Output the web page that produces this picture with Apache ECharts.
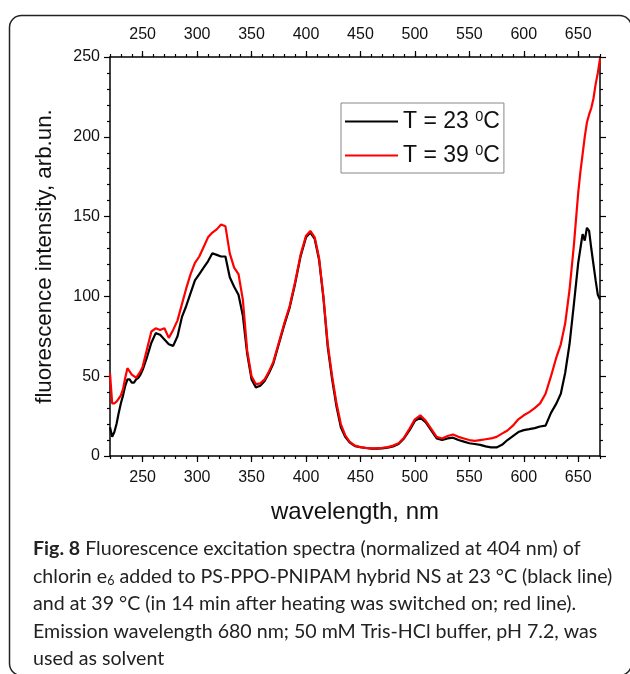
<!DOCTYPE html>
<html>
<head>
<meta charset="utf-8">
<script src="https://cdn.jsdelivr.net/npm/echarts@6/dist/echarts.min.js"></script>
<style>
html,body{margin:0;padding:0;background:#fff;}
#chart{width:630px;height:674px;}
</style>
</head>
<body>
<div id="chart"></div>
<script>
const wavelengths = [220,222,224,226,228,230,232,234,236,238,240,242,244,246,248,250,254,258,262,266,270,274,278,282,286,290,294,298,302,306,310,314,318,322,326,330,334,338,342,346,350,354,358,362,366,370,375,380,385,390,395,400,404,408,412,416,420,424,428,432,436,440,445,450,455,460,465,470,475,480,485,490,495,500,505,510,515,520,525,530,535,540,545,550,555,560,565,570,575,580,585,590,595,600,605,610,615,620,625,630,634,638,642,646,650,652,654,656,658,660,662,664,666,668,670];
const t23 = [18,12,15,20,27,33,38,44,48,48,46,46,48,49,51,54,62,71,77,76,73,70,69,75,87,94,102,110,114,118,122,127,126,125,125,112,106,101,88,64,48,43,44,47,52,58,70,82,93,108,125,137,140,136,123,99,68,48,31,18,12,8.5,6.2,5.5,5,4.6,4.6,4.8,5.2,6,7.5,11,16,22,24,21,16,11,10,11,11.5,10,9,8,7.5,7,6,5.4,5.4,7,10,12.5,15,16.2,16.8,17.5,18.5,19,27,33,39,52,70,95,121,130,139,135,143,141,130,120,110,101,98];
const t39 = [52,33,33,34,36,38,42,49,55,53,51,50,49,51,53,56,67,78,80,79,80,74,79,85,95,105,114,121,125,131,137,140,142,145,144,127,118,114,98,66,50,45,45.5,48,53,59,71,83,94,109,126,138,141,137,124,100,70,50,33,20,13,9,6.5,5.6,5.1,4.8,4.9,5.1,5.6,6.5,8,11.5,17,23,25.5,22,17,12,11,12.5,13.5,12,11,10,9.5,10,10.5,11,12,14,16,19,23,25.5,27.5,30,33,39,50,62,70,83,104,132,165,178,189,200,209,214,218,224,233,240,249];
const xMajorTicks = [250,300,350,400,450,500,550,600,650];
const seriesNames = ['T = 23 ', 'T = 39 '];
const captionLines = [
  '{b|Fig. 8} Fluorescence excitation spectra (normalized at 404 nm) of',
  'chlorin e{sub|6} added to PS-PPO-PNIPAM hybrid NS at 23 °C (black line)',
  'and at 39 °C (in 14 min after heating was switched on; red line).',
  'Emission wavelength 680 nm; 50 mM Tris-HCl buffer, pH 7.2, was',
  'used as solvent'
];

const FONT = 'Liberation Sans, Arial, sans-serif';
const CAPFONT = 'Lato, Open Sans, sans-serif';
const lineCol = '#000';

function minorX(pos){
  return {type:'value', position:pos, min:220, max:670, interval:10,
    axisLine:{show:true, lineStyle:{color:lineCol, width:1.5}},
    axisTick:{show:true, length:3, lineStyle:{color:lineCol, width:1.2}},
    axisLabel:{show:false}, splitLine:{show:false}};
}
function majorX(pos){
  return {type:'value', position:pos, min:220, max:670,
    axisLine:{show:false},
    axisTick:{show:true, length:6, customValues:xMajorTicks, lineStyle:{color:lineCol, width:1.2}},
    axisLabel:{show:true, customValues:xMajorTicks, fontFamily:FONT, fontSize:16, color:'#111', margin:14},
    splitLine:{show:false}};
}
function yAx(pos, labels){
  return {type:'value', position:pos, min:0, max:250, interval:50,
    axisLine:{show:true, lineStyle:{color:lineCol, width:1.5}},
    axisTick:{show:true, length:6, lineStyle:{color:lineCol, width:1.2}},
    minorTick:{show:true, splitNumber:5, length:3, lineStyle:{color:lineCol, width:1.2}},
    axisLabel:{show:labels, fontFamily:FONT, fontSize:16, color:'#111', margin:10},
    splitLine:{show:false}, minorSplitLine:{show:false}};
}

const xs = [minorX('bottom'), majorX('bottom'), minorX('top'), majorX('top')];
xs[1].name = 'wavelength, nm';
xs[1].nameLocation = 'middle';
xs[1].nameGap = 44;
xs[1].nameTextStyle = {fontFamily:FONT, fontSize:24, color:'#111'};

const ys = [yAx('left', true), yAx('right', false)];
ys[0].name = 'fluorescence intensity, arb.un.';
ys[0].nameLocation = 'middle';
ys[0].nameGap = 54;
ys[0].nameTextStyle = {fontFamily:FONT, fontSize:22.3, color:'#111'};

const graphics = [{
  type:'rect', silent:true,
  shape:{x:9.5, y:15.5, width:622, height:660, r:12},
  style:{fill:'none', stroke:'#222', lineWidth:1.5}
}];
captionLines.forEach((t,i)=>{
  graphics.push({
    type:'text', left:33, top:539 + i*27.5, silent:true,
    style:{text:t, font:'19.6px '+CAPFONT, fill:'#222',
      rich:{
        b:{fontFamily:CAPFONT, fontSize:19.6, fontWeight:'bold', fill:'#222'},
        sub:{fontFamily:CAPFONT, fontSize:12.5, fill:'#222', padding:[9,0,0,0]}
      }}
  });
});

const chart = echarts.init(document.getElementById('chart'), null, {renderer:'canvas'});
chart.setOption({
  animation:false,
  backgroundColor:'#fff',
  grid:{left:110, right:30, top:57, bottom:218, containLabel:false},
  xAxis: xs,
  yAxis: ys,
  legend:{
    orient:'vertical', left:341, top:103,
    data:seriesNames,
    icon:'rect', itemWidth:53, itemHeight:2.2, itemGap:10,
    borderColor:'#888', borderWidth:1, padding:[6,4,6,4],
    formatter: n => n + '{sup|0}C',
    textStyle:{fontFamily:FONT, fontSize:23, color:'#111',
      rich:{sup:{fontFamily:FONT, fontSize:14.5, color:'#111', padding:[0,0,10,0]}}}
  },
  graphic: graphics,
  series:[
    {name:seriesNames[0], type:'line', xAxisIndex:0, yAxisIndex:0, showSymbol:false,
     data: wavelengths.map((w,i)=>[w,t23[i]]),
     lineStyle:{color:'#000', width:2.2}, itemStyle:{color:'#000'}},
    {name:seriesNames[1], type:'line', xAxisIndex:0, yAxisIndex:0, showSymbol:false,
     data: wavelengths.map((w,i)=>[w,t39[i]]),
     lineStyle:{color:'#ff0000', width:2.2}, itemStyle:{color:'#ff0000'}}
  ]
});
</script>
</body>
</html>
